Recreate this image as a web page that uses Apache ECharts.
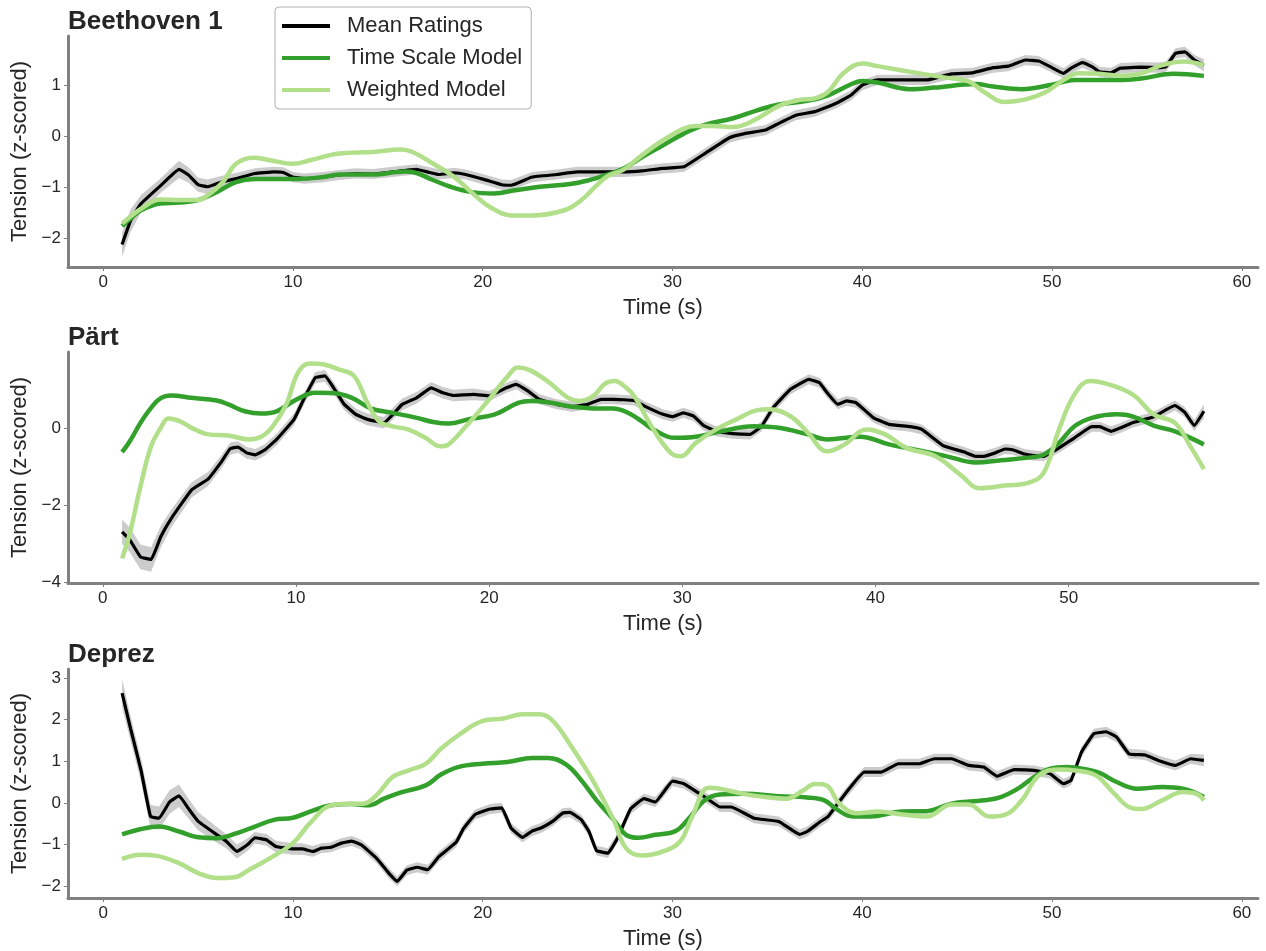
<!DOCTYPE html>
<html>
<head>
<meta charset="utf-8">
<script src="https://cdn.jsdelivr.net/npm/echarts@6/dist/echarts.min.js"></script>
<style>
html,body{margin:0;padding:0;background:#fff;}
#chart{width:1266px;height:951px;}
</style>
</head>
<body>
<div id="chart"></div>
<script>
// ---------- DATA ----------
const panelTitles = ['Beethoven 1', 'Pärt', 'Deprez'];
const seriesNames = ['Mean Ratings', 'Time Scale Model', 'Weighted Model'];

// Beethoven 1
const beethovenMean = [[1,-2.12],[1.45,-1.65],[2,-1.32],[3.05,-0.96],[4,-0.65],[4.5,-0.76],[5,-0.95],[5.5,-0.99],[6.2,-0.9],[7,-0.83],[8,-0.73],[9,-0.70],[9.5,-0.71],[10,-0.8],[10.6,-0.83],[11.6,-0.8],[12.45,-0.76],[13.3,-0.73],[14.2,-0.74],[15.25,-0.7],[16.5,-0.65],[17.2,-0.71],[17.7,-0.75],[18.5,-0.72],[19.1,-0.75],[20.1,-0.85],[21,-0.95],[21.5,-0.96],[22.6,-0.8],[23.9,-0.75],[25,-0.7],[26.3,-0.7],[27.4,-0.7],[28.4,-0.68],[29.5,-0.63],[30.6,-0.6],[31.7,-0.34],[33,-0.03],[33.8,0.05],[34.9,0.12],[35.6,0.25],[36.5,0.41],[37.5,0.48],[38.6,0.64],[39.4,0.80],[40,1.0],[40.8,1.1],[42.1,1.1],[43.4,1.1],[44.7,1.22],[45.8,1.24],[46.9,1.34],[47.7,1.37],[48.6,1.49],[49.3,1.47],[49.9,1.36],[50.6,1.23],[51,1.33],[51.6,1.44],[52.1,1.36],[52.5,1.26],[53.1,1.24],[53.6,1.33],[54.7,1.35],[55.6,1.34],[56,1.36],[56.5,1.62],[57,1.65],[57.5,1.49],[58,1.39]];
const beethovenSem = [0.24,0.22,0.17,0.14,0.17,0.15,0.14,0.14,0.12,0.11,
  0.1,0.1,0.1,0.1,0.1,0.1,0.1,0.1,0.1,0.1,
  0.1,0.1,0.1,0.1,0.1,0.1,0.1,0.1,0.1,0.1,
  0.1,0.1,0.1,0.1,0.1,0.1,0.1,0.1,0.1,0.1,
  0.1,0.1,0.1,0.1,0.1,0.1,0.1,0.1,0.1,0.1,
  0.1,0.1,0.1,0.1,0.1,0.1,0.1,0.1,0.1,0.1,
  0.1,0.1,0.1,0.1,0.1,0.1,0.1,0.1,0.1,0.12];
const beethovenTime = [[1,-1.76],[1.45,-1.61],[2,-1.45],[3,-1.32],[4,-1.30],[5,-1.25],[6,-1.09],[7,-0.90],[8,-0.84],[10,-0.84],[11.6,-0.80],[12.5,-0.75],[14.2,-0.75],[15.9,-0.69],[16.3,-0.70],[17.2,-0.83],[18.3,-0.99],[19.35,-1.09],[20.6,-1.12],[21.7,-1.06],[23,-0.99],[24.7,-0.93],[25.6,-0.86],[26.5,-0.76],[27.4,-0.64],[28.4,-0.41],[29.5,-0.18],[30.6,0.05],[31.7,0.22],[33.2,0.35],[34.5,0.51],[35.6,0.62],[37.1,0.69],[38.2,0.80],[39.5,1.03],[40,1.08],[40.8,1.05],[42.5,0.92],[43.8,0.95],[46,1.02],[46.9,0.97],[48.4,0.92],[49.9,1.0],[51.2,1.10],[53.4,1.10],[54.7,1.13],[56.4,1.22],[58,1.18]];
const beethovenWeighted = [[1,-1.71],[1.45,-1.57],[2,-1.42],[3,-1.24],[4,-1.25],[5,-1.25],[5.5,-1.16],[6.3,-0.90],[7,-0.54],[7.9,-0.42],[8.8,-0.47],[10,-0.54],[10.9,-0.47],[12.45,-0.34],[14.2,-0.31],[15.7,-0.26],[16.3,-0.31],[17.4,-0.54],[18.5,-0.80],[19.6,-1.16],[20.4,-1.39],[21.5,-1.55],[22.6,-1.55],[24.3,-1.45],[25.2,-1.25],[26.5,-0.80],[27.4,-0.66],[28.4,-0.37],[29.5,-0.08],[30.6,0.15],[31.2,0.20],[32.1,0.20],[33.2,0.18],[34.3,0.31],[35.6,0.59],[36.7,0.71],[37.5,0.74],[38.2,0.87],[39,1.23],[40,1.42],[40.8,1.37],[42.5,1.26],[44.3,1.15],[45.6,1.07],[46.4,0.87],[47.5,0.67],[48.6,0.72],[49.7,0.87],[50.6,1.10],[51.4,1.23],[52.5,1.22],[53.6,1.18],[54.7,1.23],[55.8,1.39],[56.9,1.46],[58,1.39]];

// Pärt
const partMean = [[1,-2.70],[1.4,-2.91],[1.95,-3.35],[2.5,-3.42],[3,-2.83],[3.55,-2.35],[4.6,-1.61],[5.45,-1.33],[6.1,-0.91],[6.6,-0.54],[7,-0.50],[7.45,-0.65],[7.9,-0.70],[8.4,-0.57],[9,-0.30],[9.9,0.22],[10.4,0.74],[11,1.30],[11.5,1.35],[12,1.0],[12.5,0.61],[13.1,0.35],[13.7,0.22],[14.55,0.13],[15.5,0.61],[16.25,0.78],[17,1.04],[17.6,0.91],[18.15,0.84],[19.2,0.87],[20,0.83],[20.9,1.04],[21.4,1.13],[22,0.96],[22.6,0.74],[23.5,0.61],[24.3,0.55],[25.1,0.61],[25.8,0.74],[26.4,0.74],[27.5,0.71],[28.1,0.55],[29,0.35],[29.5,0.29],[30.05,0.39],[30.6,0.30],[31.1,0.06],[31.75,-0.09],[32.6,-0.15],[33.5,-0.17],[34.1,0.04],[34.7,0.52],[35.6,1.0],[36.55,1.26],[37.1,1.17],[37.5,0.91],[38.05,0.61],[38.5,0.70],[39,0.65],[39.9,0.26],[40.7,0.09],[41.8,0.03],[42.4,-0.04],[43.5,-0.46],[44.6,-0.63],[45.2,-0.74],[45.6,-0.74],[46.2,-0.65],[46.7,-0.55],[47.1,-0.57],[47.7,-0.68],[48.2,-0.72],[48.7,-0.74],[49.5,-0.52],[50.3,-0.26],[51.2,0.03],[51.6,0.03],[52.2,-0.09],[52.7,0],[53.3,0.13],[54.4,0.29],[55.5,0.58],[56,0.41],[56.5,0.06],[57,0.43]];
const partSem = [0.32,0.32,0.32,0.32,0.28,0.23,0.2,0.18,0.17,0.16,
  0.15,0.15,0.15,0.15,0.15,0.15,0.15,0.15,0.15,0.15,
  0.15,0.15,0.15,0.15,0.15,0.15,0.15,0.15,0.15,0.15,
  0.13,0.13,0.13,0.13,0.13,0.13,0.13,0.13,0.13,0.13,
  0.13,0.13,0.13,0.13,0.13,0.13,0.13,0.13,0.13,0.13,
  0.13,0.13,0.13,0.13,0.13,0.13,0.13,0.13,0.13,0.13,
  0.13,0.13,0.13,0.13,0.13,0.13,0.13,0.13,0.13,0.13,
  0.13,0.13,0.13,0.13,0.13,0.13,0.13,0.13,0.13,0.13,
  0.13,0.13,0.13,0.15,0.18];
const partTime = [[1,-0.63],[1.4,-0.35],[1.95,0.13],[2.5,0.52],[3,0.77],[3.55,0.84],[4.6,0.78],[5.9,0.71],[6.5,0.61],[7.35,0.43],[8.2,0.37],[9,0.43],[9.9,0.70],[11,0.91],[12,0.90],[12.9,0.78],[13.9,0.50],[15,0.39],[16.25,0.26],[17.1,0.15],[17.9,0.11],[19,0.23],[20.3,0.35],[21.5,0.65],[22.2,0.70],[23.2,0.65],[24.3,0.55],[25.6,0.50],[26.4,0.50],[27.1,0.41],[27.9,0.17],[28.5,-0.04],[29.6,-0.26],[30.7,-0.23],[32,-0.09],[33.7,0.04],[35,0],[36.5,-0.17],[37.5,-0.30],[39.2,-0.23],[40.7,-0.43],[42.2,-0.58],[43.7,-0.74],[45.2,-0.90],[46.5,-0.84],[47.8,-0.78],[48.7,-0.70],[49.5,-0.39],[50.3,0.04],[51.2,0.26],[52.5,0.35],[53.3,0.30],[54.4,0.06],[55.5,-0.09],[56.3,-0.26],[57,-0.43]];
const partWeighted = [[1,-3.39],[1.4,-2.74],[1.95,-1.52],[2.5,-0.48],[3,0],[3.4,0.24],[4,0.17],[4.6,0],[5.45,-0.17],[6.5,-0.2],[7.55,-0.30],[8.2,-0.23],[8.8,0.04],[9.5,0.61],[10.1,1.43],[10.7,1.67],[11.4,1.65],[12.2,1.52],[13,1.35],[13.7,0.65],[14.3,0.17],[15,0.04],[15.8,-0.04],[16.7,-0.26],[17.5,-0.48],[17.9,-0.43],[18.8,0.04],[19.85,0.65],[20.9,1.30],[21.5,1.57],[22.1,1.50],[23,1.22],[24.1,0.78],[24.7,0.70],[25.4,0.83],[26,1.15],[26.5,1.22],[27.1,1.04],[27.5,0.83],[28.5,-0.04],[29.4,-0.65],[29.9,-0.74],[30.7,-0.39],[31.75,-0.04],[32.8,0.22],[33.9,0.46],[34.5,0.48],[35.6,0.30],[36.5,-0.13],[37.5,-0.61],[38.4,-0.43],[39.55,-0.04],[40.5,-0.17],[41.6,-0.52],[43.1,-0.74],[44.4,-1.22],[45.4,-1.57],[46.7,-1.50],[47.9,-1.43],[48.7,-1.17],[49.5,-0.04],[50.3,0.87],[51.1,1.22],[51.8,1.17],[53.3,0.87],[54.4,0.35],[55.5,0.13],[56.3,-0.48],[57,-1.07]];

// Deprez
const deprezMean = [[1,2.64],[1.45,1.78],[2,0.78],[2.5,-0.33],[2.95,-0.37],[3.5,0.02],[4,0.17],[4.5,-0.14],[5,-0.44],[6,-0.77],[6.5,-0.93],[7.05,-1.17],[7.6,-1.01],[8,-0.84],[8.6,-0.89],[9.1,-1.05],[10,-1.11],[10.5,-1.11],[11.05,-1.17],[11.5,-1.09],[12,-1.07],[12.55,-0.97],[13.1,-0.92],[13.6,-1.01],[14.4,-1.33],[15.05,-1.69],[15.5,-1.89],[16,-1.62],[16.55,-1.55],[17.1,-1.61],[17.7,-1.29],[18.6,-0.95],[19,-0.61],[19.6,-0.28],[20.4,-0.15],[21,-0.12],[21.5,-0.61],[22.1,-0.83],[22.6,-0.68],[23.1,-0.60],[23.7,-0.44],[24.2,-0.25],[24.6,-0.23],[25.2,-0.41],[25.6,-0.69],[26,-1.15],[26.6,-1.21],[27.1,-0.85],[27.8,-0.14],[28.5,0.10],[29.1,0.02],[30,0.52],[30.6,0.46],[31.7,0.14],[32.5,-0.10],[33.1,-0.10],[34.3,-0.37],[35.6,-0.45],[36.7,-0.76],[37.1,-0.69],[37.8,-0.45],[38.2,-0.33],[39.1,0.22],[40.1,0.74],[41,0.74],[41.9,0.94],[43,0.94],[43.8,1.06],[44.7,1.06],[45.6,0.90],[46.4,0.86],[47.1,0.64],[48,0.80],[49.05,0.78],[49.9,0.70],[50.6,0.46],[51,0.54],[51.55,1.22],[52.2,1.66],[52.85,1.71],[53.4,1.58],[54.05,1.18],[54.9,1.15],[55.6,1.02],[56.5,0.90],[57.3,1.06],[58,1.02]];
const deprezSem = [0.34,0.3,0.28,0.28,0.28,0.28,0.27,0.24,0.22,0.19,
  0.17,0.17,0.15,0.14,0.14,0.14,0.14,0.14,0.13,0.12,
  0.12,0.12,0.12,0.12,0.12,0.12,0.12,0.12,0.12,0.12,
  0.12,0.12,0.12,0.12,0.12,0.12,0.12,0.12,0.12,0.12,
  0.12,0.12,0.12,0.12,0.12,0.12,0.12,0.12,0.12,0.12,
  0.12,0.12,0.12,0.12,0.12,0.12,0.12,0.12,0.12,0.12,
  0.12,0.12,0.12,0.12,0.12,0.12,0.12,0.12,0.12,0.12,
  0.12,0.12,0.12,0.12,0.12,0.12,0.12,0.12,0.12,0.12,
  0.12,0.12,0.12,0.12,0.12,0.12,0.14];
const deprezTime = [[1,-0.76],[2,-0.63],[2.95,-0.57],[4,-0.69],[5,-0.83],[6,-0.85],[7.05,-0.73],[8,-0.57],[9,-0.41],[10,-0.36],[10.9,-0.21],[12,-0.06],[13.1,-0.03],[14,-0.06],[14.8,0.10],[15.7,0.25],[17,0.42],[17.8,0.68],[18.7,0.86],[20,0.94],[21.3,0.98],[22.6,1.08],[23.45,1.08],[24.4,0.92],[25.2,0.54],[26,0.06],[26.9,-0.41],[27.55,-0.77],[28.2,-0.84],[29.1,-0.77],[30.15,-0.68],[30.8,-0.41],[31.7,0.06],[32.5,0.20],[33.8,0.22],[35.6,0.16],[37.1,0.13],[38,0.06],[38.6,-0.14],[39.5,-0.33],[40.4,-0.33],[42.1,-0.21],[43.4,-0.20],[44.7,-0.02],[46.4,0.06],[47.3,0.14],[48.2,0.34],[49.05,0.62],[49.9,0.82],[50.8,0.86],[51.6,0.82],[52.5,0.72],[53.4,0.50],[54.5,0.34],[55.8,0.38],[56.9,0.34],[58,0.14]];
const deprezWeighted = [[1,-1.35],[2,-1.25],[2.75,-1.27],[4,-1.45],[5,-1.69],[6,-1.81],[6.95,-1.79],[7.7,-1.61],[8.8,-1.33],[10,-0.97],[10.9,-0.49],[12,-0.06],[12.9,-0.02],[13.7,-0.02],[14.4,0.18],[15.25,0.62],[16.1,0.78],[17,0.94],[17.8,1.30],[18.7,1.62],[20,1.97],[21.1,2.03],[22.1,2.13],[23,2.13],[23.7,1.97],[24.75,1.30],[25.8,0.54],[26.9,-0.41],[27.55,-1.09],[28.4,-1.27],[29.5,-1.17],[30.4,-0.93],[31,-0.37],[31.9,0.36],[32.5,0.34],[33.8,0.21],[34.9,0.14],[36,0.10],[36.9,0.30],[37.5,0.45],[38.1,0.42],[38.8,-0.02],[39.7,-0.25],[40.8,-0.21],[42.1,-0.28],[43.4,-0.33],[44.7,-0.04],[45.6,-0.04],[46.7,-0.33],[47.5,-0.29],[48.4,0.06],[49.3,0.66],[50.4,0.80],[51.2,0.78],[52.3,0.66],[53.2,0.26],[54.05,-0.10],[54.7,-0.15],[55.8,0.06],[56.9,0.26],[57.6,0.22],[58,0.06]];

// axis limits (x: seconds, y: z-score)
const xLimits = [[-1.85, 60.85], [-1.8, 59.8], [-1.85, 60.85]];
const yLimits = [[-2.56, 1.96], [-4.03, 1.97], [-2.29, 3.22]];
const ySplit = [5, 3, 5];

// ---------- CHART ----------
const FONT = "'Liberation Sans', Arial, sans-serif";
const TXT = '#262626';
const AXC = '#808080';
const COLORS = ['#000000', '#33a02c', '#b2df8a'];
const panels = [
  {mean: beethovenMean, sem: beethovenSem, time: beethovenTime, weighted: beethovenWeighted},
  {mean: partMean, sem: partSem, time: partTime, weighted: partWeighted},
  {mean: deprezMean, sem: deprezSem, time: deprezTime, weighted: deprezWeighted}
];
const gridTops = [36, 352, 669];
const gridH = 231;

const minus = v => (v < 0 ? '\u2212' + Math.abs(v) : String(v));

const grids = [], xAxes = [], yAxes = [], series = [], titles = [];
panels.forEach((p, i) => {
  grids.push({left: 68, width: 1190, top: gridTops[i], height: gridH, containLabel: false});
  titles.push({text: panelTitles[i], left: 68, top: gridTops[i] - 27, padding: 0,
    textStyle: {fontFamily: FONT, fontSize: 26, fontWeight: 'bold', color: TXT}});
  xAxes.push({type: 'value', gridIndex: i, min: xLimits[i][0], max: xLimits[i][1],
    name: 'Time (s)', nameLocation: 'middle', nameGap: 30,
    nameTextStyle: {fontFamily: FONT, fontSize: 22, color: TXT},
    axisLine: {show: true, onZero: false, lineStyle: {color: AXC, width: 3}},
    axisTick: {show: true, length: 4, lineStyle: {color: AXC, width: 1}},
    axisLabel: {fontFamily: FONT, fontSize: 17, color: TXT, margin: 7, showMinLabel: false, showMaxLabel: false, formatter: minus},
    splitLine: {show: false}});
  yAxes.push({type: 'value', gridIndex: i, min: yLimits[i][0], max: yLimits[i][1], splitNumber: ySplit[i],
    name: 'Tension (z-scored)', nameLocation: 'middle', nameGap: 36,
    nameTextStyle: {fontFamily: FONT, fontSize: 22, color: TXT},
    axisLine: {show: true, onZero: false, lineStyle: {color: AXC, width: 3}},
    axisTick: {show: true, length: 4, lineStyle: {color: AXC, width: 1}},
    axisLabel: {fontFamily: FONT, fontSize: 17, color: TXT, margin: 7, showMinLabel: false, showMaxLabel: false, formatter: minus},
    splitLine: {show: false}});
  // confidence band (mean ± sem) drawn as one polygon through the axes' coordinate system
  const bandData = p.mean.map((d, k) => [d[0], d[1] - p.sem[k], d[1] + p.sem[k]]);
  series.push({type: 'custom', xAxisIndex: i, yAxisIndex: i, silent: true, z: 1,
    data: bandData, encode: {x: 0, y: [1, 2]},
    renderItem: (params, api) => {
      if (params.dataIndex !== 0) return null;
      const upper = bandData.map(d => api.coord([d[0], d[2]]));
      const lower = bandData.map(d => api.coord([d[0], d[1]])).reverse();
      return {type: 'polygon', shape: {points: upper.concat(lower), smooth: 0},
        style: {fill: '#cccccc', stroke: null}};
    }});
  series.push({name: seriesNames[0], type: 'line', xAxisIndex: i, yAxisIndex: i, data: p.mean,
    symbol: 'none', smooth: 0.1, color: COLORS[0], lineStyle: {color: COLORS[0], width: 3.2}, z: 3});
  series.push({name: seriesNames[1], type: 'line', xAxisIndex: i, yAxisIndex: i, data: p.time,
    symbol: 'none', smooth: 0.4, color: COLORS[1], lineStyle: {color: COLORS[1], width: 4.5}, z: 4});
  series.push({name: seriesNames[2], type: 'line', xAxisIndex: i, yAxisIndex: i, data: p.weighted,
    symbol: 'none', smooth: 0.4, color: COLORS[2], lineStyle: {color: COLORS[2], width: 4.5}, z: 5});
});

const chart = echarts.init(document.getElementById('chart'), null, {renderer: 'canvas'});
chart.setOption({
  animation: false,
  backgroundColor: '#ffffff',
  title: titles,
  grid: grids,
  xAxis: xAxes,
  yAxis: yAxes,
  legend: {
    data: seriesNames, orient: 'vertical', left: 275, top: 7,
    icon: 'rect', itemWidth: 48, itemHeight: 4, itemGap: 8,
    backgroundColor: '#ffffff', borderColor: '#b0b0b0', borderWidth: 1, borderRadius: 4,
    padding: [7, 9, 7, 7],
    textStyle: {fontFamily: FONT, fontSize: 22, color: TXT, lineHeight: 24, padding: [0, 0, 0, 12]}
  },
  series: series
});
</script>
</body>
</html>
